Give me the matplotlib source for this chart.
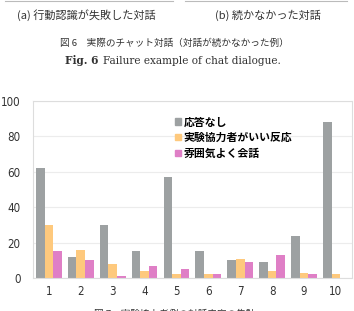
import numpy as np
import matplotlib.pyplot as plt
from matplotlib.patches import Patch

plt.rcParams['font.family'] = ['Noto Sans CJK JP', 'DejaVu Sans']

# data
categories = ['1', '2', '3', '4', '5', '6', '7', '8', '9', '10']
no_reply = [62, 12, 30, 15, 57, 15, 10, 9, 24, 88]
good_reaction = [30, 16, 8, 4, 2, 2, 11, 4, 3, 2]
nice_talk = [15, 10, 1, 7, 5, 2, 9, 13, 2, 0]
series_names = ['応答なし', '実験協力者がいい反応', '雰囲気よく会話']
colors = ['#9da1a2', '#fec97d', '#df7fc6']
yticks = [0, 20, 40, 60, 80, 100]

fig = plt.figure(figsize=(3.54, 3.11), dpi=100)
ax = fig.add_axes([0.093, 0.106, 0.901, 0.569])

x = np.arange(len(categories))
w = 0.27
for i, vals in enumerate([no_reply, good_reaction, nice_talk]):
    ax.bar(x + (i - 1) * w, vals, width=w, color=colors[i], zorder=2)

ax.set_xlim(-0.5, len(categories) - 0.5)
ax.set_ylim(0, 100)
ax.set_yticks(yticks)
ax.set_xticks(x)
ax.set_xticklabels(categories)
ax.yaxis.grid(True, color='#ececec', linewidth=0.8, zorder=0)
for side in ['left', 'right', 'bottom', 'top']:
    ax.spines[side].set_color('#dddddd')
    ax.spines[side].set_linewidth(0.8)
ax.tick_params(length=0, labelsize=8.3, colors='#333333')
ax.tick_params(axis='y', pad=9)
ax.tick_params(axis='x', pad=5)
for lab in ax.get_xticklabels() + ax.get_yticklabels():
    lab.set_family('DejaVu Sans')
    lab.set_fontstretch('condensed')

handles = [Patch(color=c) for c in colors]
ax.legend(handles, series_names, loc='upper left', bbox_to_anchor=(0.43, 0.94),
          frameon=False, borderpad=0, handlelength=0.5, handleheight=0.5,
          handletextpad=0.25, labelspacing=0.5,
          prop={'size': 7.8, 'weight': 'bold'})

# surrounding captions from the page
fig.add_artist(plt.Line2D([0.015, 0.49], [0.997, 0.997], color='#bbbbbb', lw=0.8))
fig.add_artist(plt.Line2D([0.523, 0.98], [0.997, 0.997], color='#bbbbbb', lw=0.8))
fig.text(0.243, 0.952, '(a) 行動認識が失敗した対話', ha='center', va='center',
         fontsize=8, color='#333333')
fig.text(0.757, 0.952, '(b) 続かなかった対話', ha='center', va='center',
         fontsize=8, color='#333333')
fig.text(0.492, 0.862, '図 6　実際のチャット対話（対話が続かなかった例）', ha='center',
         va='center', fontsize=6.9, color='#333333')
fig.text(0.183, 0.804, 'Fig. 6', ha='left', va='center', fontsize=7.6,
         weight='bold', color='#333333', family='DejaVu Serif')
fig.text(0.29, 0.804, 'Failure example of chat dialogue.', ha='left', va='center',
         fontsize=7.6, color='#333333', family='DejaVu Serif')
fig.text(0.494, -0.012, '図 7　実験協力者側の対話内容の集計', ha='center', va='center',
         fontsize=6.9, color='#333333')

fig.savefig('out.png', dpi=100)
